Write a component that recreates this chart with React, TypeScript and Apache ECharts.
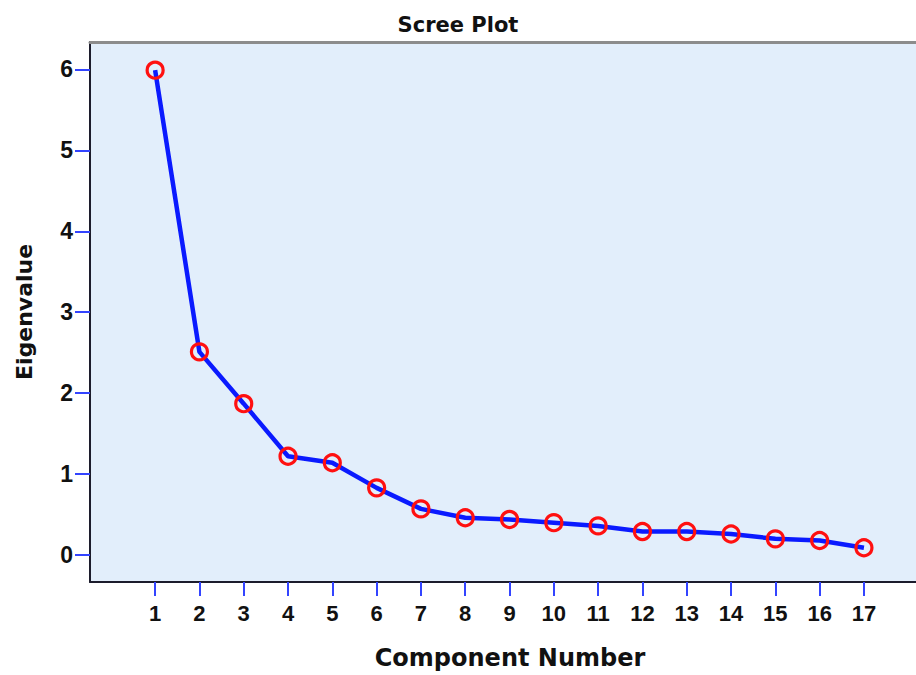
import React, { useEffect, useRef } from "react";
import * as echarts from "echarts";

const components = [1, 2, 3, 4, 5, 6, 7, 8, 9, 10, 11, 12, 13, 14, 15, 16, 17];
const eigenvalues = [5.99, 2.51, 1.87, 1.22, 1.14, 0.83, 0.57, 0.46, 0.44, 0.4, 0.36, 0.29, 0.29, 0.26, 0.2, 0.18, 0.09];
const yTicks = [0, 1, 2, 3, 4, 5, 6];

export default function App() {
  const ref = useRef<HTMLDivElement>(null);
  useEffect(() => {
    if (!ref.current) return;
    const chart = echarts.init(ref.current, null, { renderer: "svg" });
    const data = components.map((c, i) => [c, eigenvalues[i]]);
    chart.setOption({
      animation: false,
      backgroundColor: "#ffffff",
      title: {
        text: "Scree Plot",
        left: "center",
        top: 9,
        textStyle: { fontFamily: "DejaVu Sans", fontWeight: "bold", fontSize: 21, color: "#111" },
      },
      grid: {
        left: 90,
        top: 42,
        bottom: 92,
        right: 0,
        show: true,
        backgroundColor: "#e2eefb",
        borderWidth: 0,
      },
      xAxis: [
        {
          type: "value",
          min: -0.47,
          max: 18.175,
          name: "Component Number",
          nameLocation: "middle",
          nameGap: 64,
          nameTextStyle: {
            fontFamily: "DejaVu Sans",
            fontWeight: "bold",
            fontSize: 24,
            color: "#111",
            padding: [0, 0, 0, 14],
          },
          axisLine: { show: true, onZero: false, lineStyle: { color: "#1c1c2c", width: 2 } },
          axisTick: { show: true, length: 14, lineStyle: { color: "#3344ff", width: 2 }, customValues: components },
          axisLabel: {
            customValues: components,
            margin: 20,
            fontFamily: "Liberation Sans",
            fontWeight: "bold",
            fontSize: 22,
            color: "#111",
          },
          splitLine: { show: false },
        },
        {
          type: "value",
          position: "top",
          min: -0.47,
          max: 18.175,
          axisLine: { show: true, onZero: false, lineStyle: { color: "#8c8c8c", width: 3 } },
          axisTick: { show: false },
          axisLabel: { show: false },
          splitLine: { show: false },
        },
      ],
      yAxis: {
        type: "value",
        min: -0.333,
        max: 6.338,
        name: "Eigenvalue",
        nameLocation: "middle",
        nameGap: 55,
        nameRotate: 90,
        nameTextStyle: { fontFamily: "DejaVu Sans", fontWeight: "bold", fontSize: 22, color: "#111" },
        axisLine: { show: true, onZero: false, lineStyle: { color: "#1c1c2c", width: 2 } },
        axisTick: { show: true, length: 15, lineStyle: { color: "#3344ff", width: 2 }, customValues: yTicks },
        axisLabel: {
          customValues: yTicks,
          margin: 17,
          fontFamily: "Liberation Sans",
          fontWeight: "bold",
          fontSize: 23,
          color: "#111",
        },
        splitLine: { show: false },
      },
      series: [
        {
          type: "line",
          xAxisIndex: 0,
          data,
          lineStyle: { color: "#0a1aff", width: 4.5 },
          symbol: "circle",
          symbolSize: 16,
          itemStyle: { color: "rgba(0,0,0,0)", borderColor: "#ff1010", borderWidth: 3.2 },
          z: 3,
        },
      ],
    });
    return () => chart.dispose();
  }, []);
  return <div ref={ref} style={{ position: "absolute", left: 0, top: 0, width: 916, height: 675 }} />;
}
